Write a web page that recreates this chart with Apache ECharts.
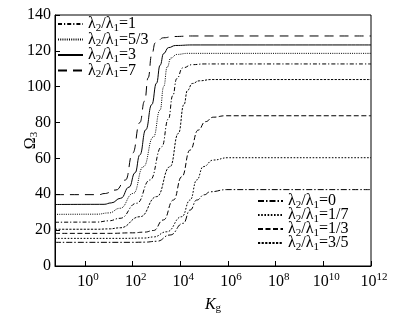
<!DOCTYPE html>
<html>
<head>
<meta charset="utf-8">
<script src="https://cdn.jsdelivr.net/npm/echarts@6/dist/echarts.min.js"></script>
<style>
  html, body { margin: 0; padding: 0; background: #fff; }
  #chart { width: 416px; height: 323px; }
</style>
</head>
<body>
<div id="chart"></div>
<script>
// x values are log10(Kg); y values are Omega_3
const K_7   = [-1.26, 0.6, 0.8, 1.3, 1.7, 2.0, 2.3, 2.5, 2.65, 2.8, 2.95, 3.3, 3.7, 4.5, 12];
const W_7   = [39.8, 39.8, 40.4, 42.4, 48, 63, 80, 92, 105, 118, 124.5, 127.3, 128, 128.3, 128.3];

const K_3   = [-1.26, 0.8, 1.1, 1.5, 1.85, 2.1, 2.3, 2.55, 2.8, 3.0, 3.15, 3.3, 3.5, 3.8, 4.5, 12];
const W_3   = [34.3, 34.4, 35.2, 37.8, 44, 52, 62, 76, 90, 102, 112, 118.5, 121.8, 123, 123.3, 123.3];

const K_5_3 = [-1.26, 0.5, 1.0, 1.47, 2.03, 2.45, 2.87, 3.15, 3.3, 3.45, 3.6, 3.85, 4.3, 12];
const W_5_3 = [28.8, 28.9, 29.6, 32.2, 40.5, 55.4, 72, 87, 100, 111, 116, 118, 118.6, 118.6];

const K_1   = [-1.26, 0.5, 1.0, 1.47, 2.17, 2.73, 3.22, 3.5, 3.68, 3.85, 4.1, 4.5, 5, 12];
const W_1   = [24.4, 24.5, 25.2, 26.6, 35, 48, 66.5, 82, 95, 104.5, 110.5, 112.3, 112.7, 112.7];

const K_3_5 = [-1.26, 0.5, 1.0, 1.47, 2.31, 3.01, 3.57, 3.92, 4.15, 4.3, 4.5, 4.8, 5.3, 12];
const W_3_5 = [20.5, 20.5, 20.7, 21.3, 27.5, 38.7, 55.4, 74, 90, 98, 101.8, 103.3, 104, 104];

const K_1_3 = [-1.26, 1.0, 2.0, 2.5, 2.87, 3.29, 3.71, 4.06, 4.41, 4.75, 5.05, 5.38, 5.9, 12];
const W_1_3 = [18.2, 18.2, 18.5, 18.9, 19.8, 25.7, 36.8, 49.8, 64.7, 75.8, 80.5, 83, 83.8, 83.8];

const K_1_7 = [-1.26, 1.5, 2.5, 2.87, 3.43, 4.06, 4.41, 4.69, 4.96, 5.38, 6.0, 12];
const W_1_7 = [15.4, 15.4, 15.6, 16.2, 19.1, 27.5, 36.8, 48, 55.4, 59.1, 60.4, 60.4];

const K_0   = [-1.26, 2.0, 2.5, 3.01, 3.57, 4.12, 4.41, 4.69, 5.0, 5.25, 5.95, 12];
const W_0   = [13.2, 13.2, 13.3, 13.8, 17.3, 23.8, 31.2, 36.8, 39.7, 41.4, 42.6, 42.6];

const xTickExponents = [0, 2, 4, 6, 8, 10, 12];

const legendTop = ['λ2/λ1=1', 'λ2/λ1=5/3', 'λ2/λ1=3', 'λ2/λ1=7'];
const legendBottom = ['λ2/λ1=0', 'λ2/λ1=1/7', 'λ2/λ1=1/3', 'λ2/λ1=3/5'];

const FONT = '"Liberation Serif", "DejaVu Serif", serif';

function zip(xs, ys) { return xs.map((x, i) => [x, ys[i]]); }

const curves = [
  { name: 'λ2/λ1=7',   x: K_7,   y: W_7,   dash: [9, 6] },
  { name: 'λ2/λ1=3',   x: K_3,   y: W_3,   dash: 'solid' },
  { name: 'λ2/λ1=5/3', x: K_5_3, y: W_5_3, dash: [1, 1.2] },
  { name: 'λ2/λ1=1',   x: K_1,   y: W_1,   dash: [4, 2, 1.2, 2] },
  { name: 'λ2/λ1=3/5', x: K_3_5, y: W_3_5, dash: [2.2, 1.4] },
  { name: 'λ2/λ1=1/3', x: K_1_3, y: W_1_3, dash: [5, 2.5] },
  { name: 'λ2/λ1=1/7', x: K_1_7, y: W_1_7, dash: [1.6, 1.6] },
  { name: 'λ2/λ1=0',   x: K_0,   y: W_0,   dash: [6, 2, 1.5, 2] }
];

const subRich = {
  s: { fontFamily: FONT, fontSize: 11, color: '#000', padding: [8, 0, 0, 0] }
};

function legendFormatter(name) {
  return name.replace('λ2', 'λ{s|2}').replace('λ1', 'λ{s|1}');
}

function makeLegend(data, left, top, gap) {
  return {
    data: data,
    orient: 'vertical',
    left: left,
    top: top,
    padding: 0,
    itemWidth: 25,
    itemHeight: 10,
    itemGap: gap,
    selectedMode: false,
    itemStyle: { opacity: 0 },
    formatter: legendFormatter,
    textStyle: { fontFamily: FONT, fontSize: 16, color: '#000', rich: subRich }
  };
}

const chart = echarts.init(document.getElementById('chart'), null, { renderer: 'canvas' });

chart.setOption({
  animation: false,
  backgroundColor: '#fff',
  grid: {
    left: 55, right: 45, top: 15, bottom: 57,
    containLabel: false,
    outerBoundsMode: 'none',
    show: true, borderColor: '#000', borderWidth: 1, backgroundColor: 'transparent'
  },
  legend: [
    makeLegend(legendTop, 57, 16, -2),
    makeLegend(legendBottom, 257, 193, -3.5)
  ],
  xAxis: {
    type: 'value',
    min: -1.26,
    max: 12,
    name: '{it|K}{s|g}',
    nameLocation: 'middle',
    nameGap: 29,
    nameMoveOverlap: false,
    nameTextStyle: {
      fontFamily: FONT, fontSize: 16, color: '#000',
      rich: {
        it: { fontFamily: FONT, fontSize: 16, fontStyle: 'italic', color: '#000' },
        s: { fontFamily: FONT, fontSize: 11, color: '#000', padding: [8, 0, 0, 0] }
      }
    },
    axisLine: { onZero: false, lineStyle: { color: '#000', width: 1 } },
    axisTick: { inside: true, length: 5, customValues: xTickExponents, lineStyle: { color: '#000' } },
    axisLabel: {
      customValues: xTickExponents,
      margin: 6,
      padding: [0, 0, 0, 6],
      color: '#000',
      fontFamily: FONT,
      fontSize: 16,
      formatter: v => '10{sup|' + v + '}',
      rich: {
        sup: { fontFamily: FONT, fontSize: 11, color: '#000', padding: [0, 0, 9, 0] }
      }
    },
    splitLine: { show: false }
  },
  yAxis: {
    type: 'value',
    min: 0,
    max: 140,
    interval: 20,
    name: '{o|Ω}{s|3}',
    nameLocation: 'middle',
    nameRotate: 90,
    nameGap: 15,
    nameMoveOverlap: false,
    nameTextStyle: {
      fontFamily: FONT, fontSize: 16, color: '#000',
      rich: {
        o: { fontFamily: FONT, fontSize: 16, color: '#000' },
        s: { fontFamily: FONT, fontSize: 11, color: '#000', padding: [8, 0, 0, 0] }
      }
    },
    axisLine: { show: true, onZero: false, lineStyle: { color: '#000', width: 1 } },
    axisTick: { inside: true, length: 5, lineStyle: { color: '#000' } },
    axisLabel: { margin: 4, color: '#000', fontFamily: FONT, fontSize: 16 },
    splitLine: { show: false }
  },
  series: curves.map(c => ({
    name: c.name,
    type: 'line',
    data: zip(c.x, c.y),
    symbol: 'none',
    smooth: 0.5,
    smoothMonotone: 'x',
    lineStyle: { color: '#000', width: 1, type: c.dash },
    itemStyle: { color: '#000' }
  }))
});
</script>
</body>
</html>
